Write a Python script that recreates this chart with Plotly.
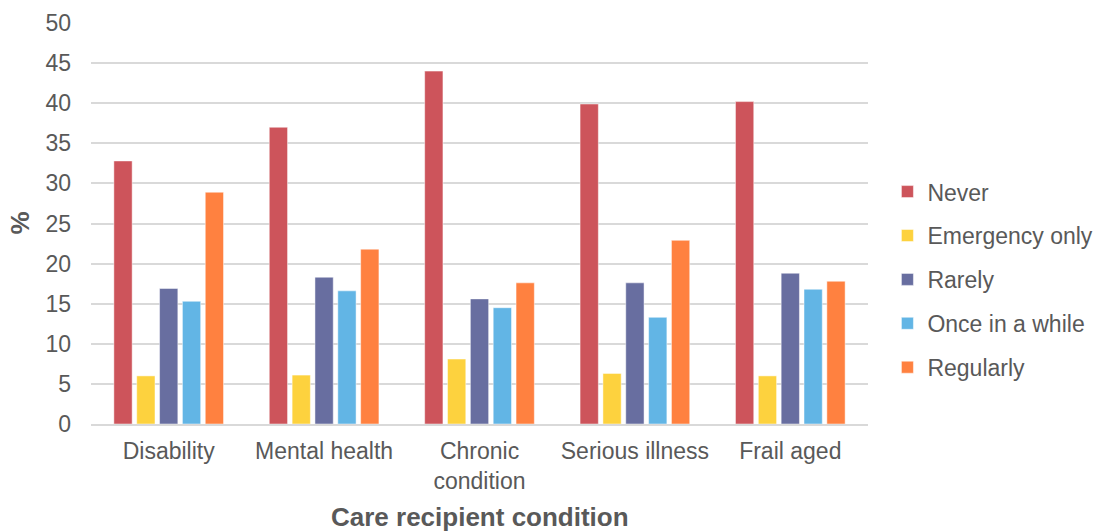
import plotly.graph_objects as go

categories = ["Disability", "Mental health", "Chronic<br>condition", "Serious illness", "Frail aged"]
series_names = ["Never", "Emergency only", "Rarely", "Once in a while", "Regularly"]
never = [32.8, 37.0, 44.0, 39.9, 40.2]
emergency_only = [6.0, 6.1, 8.1, 6.3, 6.0]
rarely = [16.9, 18.3, 15.6, 17.6, 18.8]
once_in_a_while = [15.3, 16.6, 14.5, 13.3, 16.8]
regularly = [28.9, 21.8, 17.6, 22.9, 17.8]
y_ticks = [0, 5, 10, 15, 20, 25, 30, 35, 40, 45, 50]

colors = ["#CD545B", "#FDD23E", "#686EA0", "#62B5E5", "#FF8140"]
values = [never, emergency_only, rarely, once_in_a_while, regularly]

FONT = "Liberation Sans, Arial, sans-serif"
TXT = "#595959"

fig = go.Figure()
for i, (name, vals, col) in enumerate(zip(series_names, values, colors)):
    fig.add_trace(go.Bar(
        x=categories, y=vals, name=name, legendgroup=f"g{i}",
        marker=dict(color=col, line=dict(color="rgba(255,255,255,0.6)", width=0.8)),
    ))

fig.update_layout(
    width=1104, height=532,
    paper_bgcolor="white", plot_bgcolor="white",
    margin=dict(l=91, r=236, t=23, b=108, autoexpand=False),
    barmode="group", bargap=0.265, bargroupgap=0.2,
    font=dict(family=FONT, color=TXT, size=23),
    legend=dict(
        x=1.025, y=0.36, xanchor="left", yanchor="middle",
        font=dict(family=FONT, color=TXT, size=23),
        tracegroupgap=11, itemwidth=30,
    ),
    showlegend=True,
    annotations=[
        dict(text="<b>Care recipient condition</b>", xref="paper", yref="paper",
             x=0.5, y=0, yshift=-93, xanchor="center", yanchor="middle",
             showarrow=False, font=dict(size=26, color=TXT, family=FONT)),
        dict(text="<b>%</b>", xref="paper", yref="paper",
             x=0, y=0.5, xshift=-72, xanchor="center", yanchor="middle", textangle=-90,
             showarrow=False, font=dict(size=26, color=TXT, family=FONT)),
    ],
)
fig.update_xaxes(
    automargin=False,
    showgrid=False, showline=True, linecolor="#D9D9D9", linewidth=1.5,
    ticks="", tickfont=dict(size=23, color=TXT), ticklabelstandoff=6,
)
fig.update_yaxes(
    automargin=False,
    range=[0, 50], tickvals=y_ticks, showgrid=True, gridcolor="#D9D9D9", gridwidth=1.5,
    zeroline=False, showline=False, ticks="", ticklen=0,
    tickfont=dict(size=23, color=TXT), ticklabelstandoff=19,
)
fig.write_html("out.html", config={"displayModeBar": False},
               post_script="document.body.style.margin='0px';")
